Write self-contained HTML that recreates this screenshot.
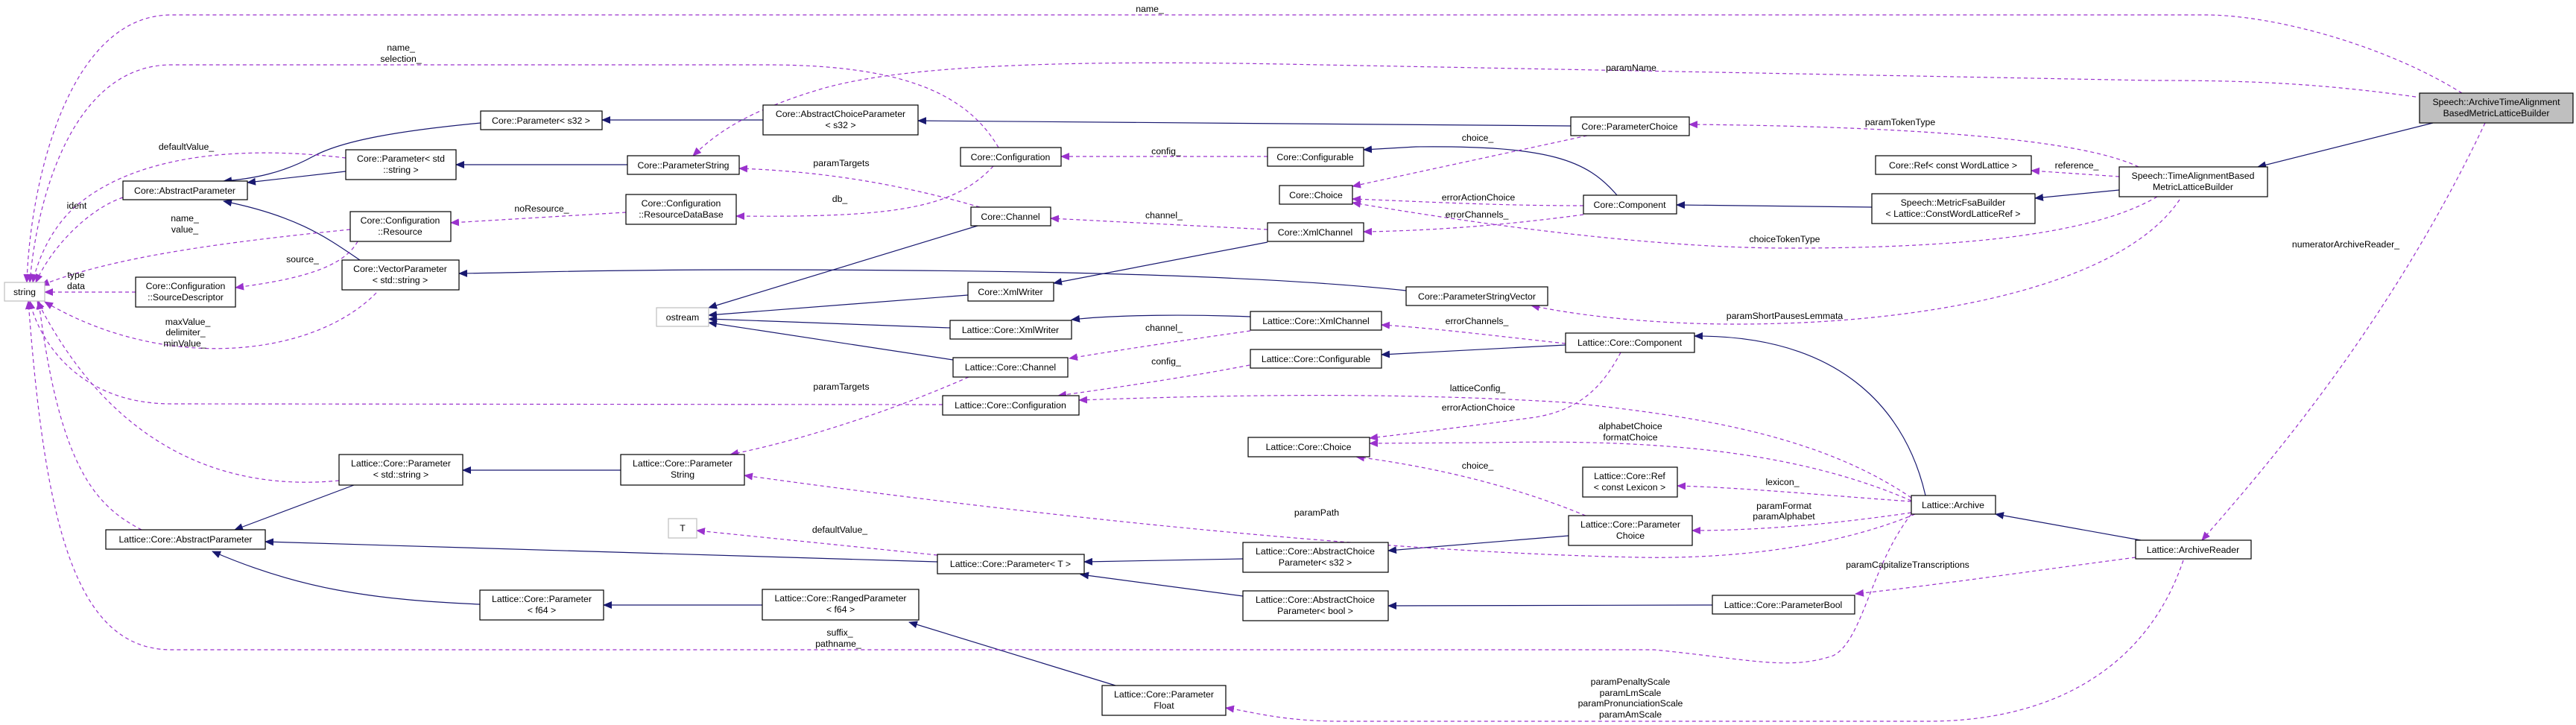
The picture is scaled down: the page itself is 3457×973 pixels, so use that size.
<!DOCTYPE html>
<html><head><meta charset="utf-8"><style>
html,body{margin:0;padding:0;background:#fff;width:3457px;height:973px;overflow:hidden}
svg text{font-family:"Liberation Sans",sans-serif;font-size:12.3px;fill:#000}
.b{fill:#fff;stroke:#000;stroke-width:1.2}
.g{fill:#fff;stroke:#bfbfbf;stroke-width:1.2}
.s{fill:none;stroke:#191970;stroke-width:1.2}
.d{fill:none;stroke:#9a32cd;stroke-width:1.2;stroke-dasharray:5,4}
</style></head><body>
<svg width="3457" height="973" viewBox="0 0 3457 973" xmlns="http://www.w3.org/2000/svg">
<defs>
<marker id="n" markerWidth="12" markerHeight="10" refX="11" refY="5" orient="auto" markerUnits="userSpaceOnUse"><path d="M0,0 L12,5 L0,10 z" fill="#191970"/></marker>
<marker id="p" markerWidth="12" markerHeight="10" refX="11" refY="5" orient="auto" markerUnits="userSpaceOnUse"><path d="M0,0 L12,5 L0,10 z" fill="#9a32cd"/></marker>
</defs>

<!-- solid inheritance edges -->
<g class="s" marker-end="url(#n)">
<path d="M645,165 C540,175 460,188 420,210 C380,232 340,240 300,243"/>
<path d="M464,230 L332,245"/>
<path d="M483,349 C440,320 400,290 300,270"/>
<path d="M1024,161 L808,161"/>
<path d="M842,221 L612,221"/>
<path d="M1887,390 C1700,370 1400,362 1000,362 C800,362 700,366 616,367"/>
<path d="M2108,169 L1232,162"/>
<path d="M2170,262 C2130,215 2080,195 1900,197 L1830,201"/>
<path d="M1312,303 L951,413"/>
<path d="M1299,396 L951,423"/>
<path d="M1701,325 L1414,380"/>
<path d="M1275,440 L951,428"/>
<path d="M1279,483 L951,433"/>
<path d="M1678,425 C1600,422 1500,422 1438,429"/>
<path d="M2512,278 L2250,275"/>
<path d="M2844,255 L2731,266"/>
<path d="M3265,165 L3030,224"/>
<path d="M2101,463 L1854,476"/>
<path d="M2584,665 C2560,560 2480,450 2274,451"/>
<path d="M2873,725 L2678,690"/>
<path d="M475,651 L315,711"/>
<path d="M1258,754 L356,727"/>
<path d="M644,811 C500,805 400,790 285,740"/>
<path d="M833,631 L621,631"/>
<path d="M1668,750 L1455,754"/>
<path d="M1668,800 L1450,771"/>
<path d="M1023,812 L810,812"/>
<path d="M1497,920 L1220,835"/>
<path d="M2105,719 L1863,739"/>
<path d="M2298,812 L1863,813"/>
</g>

<!-- dashed usage edges -->
<g class="d" marker-end="url(#p)">
<path d="M3304,125 C3200,60 3050,20 2960,20 L230,20 C90,20 40,250 36,379"/>
<path d="M3242,130 C3100,110 3000,108 2887,108 L1720,86 C1400,80 1200,90 1100,120 C1000,150 960,180 930,209"/>
<path d="M1340,198 C1300,130 1220,87 1030,87 L230,87 C100,87 50,260 40,379"/>
<path d="M464,212 C350,198 200,200 110,270 C70,300 50,350 44,379"/>
<path d="M165,265 C120,280 70,330 48,379"/>
<path d="M470,308 C300,325 150,345 55,383"/>
<path d="M480,324 C460,360 400,375 316,386"/>
<path d="M182,392 L60,392"/>
<path d="M505,393 C420,480 220,500 60,405"/>
<path d="M1333,223 C1280,280 1200,292 988,290"/>
<path d="M840,285 L605,299"/>
<path d="M1315,278 C1200,245 1100,230 992,226"/>
<path d="M1701,210 L1424,210"/>
<path d="M1701,308 L1410,293"/>
<path d="M2130,182 L1815,250"/>
<path d="M2125,276 C2000,276 1900,270 1815,267"/>
<path d="M2125,288 C2000,305 1900,310 1830,311"/>
<path d="M2870,224 C2800,190 2600,170 2267,167"/>
<path d="M2844,237 L2726,229"/>
<path d="M2895,264 C2800,320 2600,333 2400,333 C2200,333 1950,295 1815,272"/>
<path d="M2925,268 C2850,380 2600,435 2330,435 C2200,435 2100,420 2055,410"/>
<path d="M3335,165 C3200,450 3020,650 2955,725"/>
<path d="M1678,444 C1600,455 1500,470 1435,481"/>
<path d="M1677,490 C1600,505 1500,520 1420,531"/>
<path d="M2101,461 C2000,450 1920,440 1854,436"/>
<path d="M2175,473 C2150,520 2120,550 2060,560 C1950,575 1880,583 1838,588"/>
<path d="M2565,668 C2450,590 2300,560 2100,540 C1900,528 1700,528 1448,537"/>
<path d="M2565,672 C2400,600 2200,590 2000,594 L1838,595"/>
<path d="M2128,692 C2050,660 1950,630 1820,613"/>
<path d="M2565,673 C2450,665 2350,655 2251,652"/>
<path d="M2565,688 C2450,705 2350,712 2271,712"/>
<path d="M2570,690 C2450,740 2300,750 2200,748 C1800,740 1300,680 999,638"/>
<path d="M1300,506 C1200,550 1080,590 980,610"/>
<path d="M1265,543 L230,542 C100,542 50,450 40,404"/>
<path d="M455,645 C300,660 150,600 50,404"/>
<path d="M190,711 C130,680 80,630 52,404"/>
<path d="M1258,745 L935,712"/>
<path d="M2866,748 C2700,770 2600,785 2490,797"/>
<path d="M2930,752 C2880,900 2750,968 2587,968 L1800,968 C1720,968 1680,955 1645,950"/>
<path d="M2565,690 C2510,760 2500,860 2460,880 C2400,900 2350,885 2220,872 L230,872 C100,872 60,700 38,404"/>
</g>

<!-- edge labels -->
<g text-anchor="middle">
<text x="1543" y="16">name_</text>
<text x="538" y="68">name_</text><text x="538" y="83">selection_</text>
<text x="2189" y="95">paramName</text>
<text x="250" y="201">defaultValue_</text>
<text x="103" y="280">ident</text>
<text x="248" y="297">name_</text><text x="248" y="312">value_</text>
<text x="406" y="352">source_</text>
<text x="102" y="373">type</text><text x="102" y="388">data</text>
<text x="252" y="436">maxValue_</text><text x="249" y="450">delimiter_</text><text x="248" y="465">minValue_</text>
<text x="727" y="284">noResource_</text>
<text x="1129" y="223">paramTargets</text>
<text x="1127" y="271">db_</text>
<text x="1565" y="207">config_</text>
<text x="1562" y="293">channel_</text>
<text x="1983" y="189">choice_</text>
<text x="1984" y="269">errorActionChoice</text>
<text x="1982" y="292">errorChannels_</text>
<text x="2395" y="325">choiceTokenType</text>
<text x="2550" y="168">paramTokenType</text>
<text x="2787" y="226">reference_</text>
<text x="3148" y="332">numeratorArchiveReader_</text>
<text x="1982" y="435">errorChannels_</text>
<text x="2395" y="428">paramShortPausesLemmata</text>
<text x="1562" y="444">channel_</text>
<text x="1565" y="489">config_</text>
<text x="1983" y="525">latticeConfig_</text>
<text x="1984" y="551">errorActionChoice</text>
<text x="2188" y="576">alphabetChoice</text><text x="2188" y="591">formatChoice</text>
<text x="1983" y="629">choice_</text>
<text x="2392" y="651">lexicon_</text>
<text x="2394" y="683">paramFormat</text><text x="2394" y="697">paramAlphabet</text>
<text x="1767" y="692">paramPath</text>
<text x="1129" y="523">paramTargets</text>
<text x="1127" y="715">defaultValue_</text>
<text x="1127" y="853">suffix_</text><text x="1125" y="868">pathname_</text>
<text x="2560" y="762">paramCapitalizeTranscriptions</text>
<text x="2188" y="919">paramPenaltyScale</text><text x="2188" y="934">paramLmScale</text><text x="2188" y="948">paramPronunciationScale</text><text x="2188" y="963">paramAmScale</text>
</g>

<!-- nodes -->
<g>
<rect class="g" x="6" y="379" width="54" height="25"/>
<rect class="b" x="645" y="149" width="163" height="25"/>
<rect class="b" x="464" y="201" width="148" height="40"/>
<rect class="b" x="165" y="243" width="167" height="25"/>
<rect class="b" x="470" y="284" width="135" height="40"/>
<rect class="b" x="182" y="372" width="134" height="40"/>
<rect class="b" x="459" y="349" width="157" height="40"/>
<rect class="b" x="1024" y="141" width="208" height="40"/>
<rect class="b" x="842" y="209" width="150" height="25"/>
<rect class="b" x="840" y="261" width="148" height="40"/>
<rect class="b" x="1289" y="198" width="135" height="25"/>
<rect class="b" x="1303" y="278" width="107" height="25"/>
<rect class="b" x="1299" y="379" width="115" height="25"/>
<rect class="g" x="881" y="413" width="70" height="25"/>
<rect class="b" x="1275" y="430" width="163" height="25"/>
<rect class="b" x="1279" y="480" width="154" height="26"/>
<rect class="b" x="1265" y="531" width="183" height="26"/>
<rect class="b" x="833" y="610" width="166" height="41"/>
<rect class="g" x="897" y="696" width="38" height="26"/>
<rect class="b" x="1258" y="744" width="197" height="26"/>
<rect class="b" x="1023" y="791" width="210" height="41"/>
<rect class="b" x="1479" y="920" width="166" height="40"/>
<rect class="b" x="455" y="610" width="166" height="41"/>
<rect class="b" x="142" y="711" width="214" height="26"/>
<rect class="b" x="644" y="792" width="166" height="40"/>
<rect class="b" x="2108" y="157" width="159" height="25"/>
<rect class="b" x="1701" y="198" width="129" height="25"/>
<rect class="b" x="1717" y="249" width="98" height="25"/>
<rect class="b" x="2125" y="262" width="125" height="25"/>
<rect class="b" x="1701" y="299" width="129" height="25"/>
<rect class="b" x="1887" y="385" width="190" height="25"/>
<rect class="b" x="1678" y="418" width="176" height="25"/>
<rect class="b" x="2101" y="447" width="173" height="26"/>
<rect class="b" x="1678" y="469" width="176" height="25"/>
<rect class="b" x="2517" y="209" width="209" height="25"/>
<rect class="b" x="2512" y="260" width="219" height="40"/>
<rect x="3247" y="125" width="206" height="40" fill="#bfbfbf" stroke="#000" stroke-width="1.2"/>
<rect class="b" x="2844" y="224" width="199" height="40"/>
<rect class="b" x="1675" y="587" width="163" height="26"/>
<rect class="b" x="2124" y="627" width="127" height="40"/>
<rect class="b" x="2565" y="665" width="113" height="25"/>
<rect class="b" x="2105" y="692" width="166" height="40"/>
<rect class="b" x="1668" y="728" width="195" height="40"/>
<rect class="b" x="1668" y="793" width="195" height="40"/>
<rect class="b" x="2298" y="799" width="191" height="25"/>
<rect class="b" x="2866" y="725" width="155" height="25"/>
</g>

<g text-anchor="middle">
<text x="33" y="396">string</text>
<text x="726" y="166">Core::Parameter&lt; s32 &gt;</text>
<text x="538" y="217">Core::Parameter&lt; std</text><text x="538" y="232">::string &gt;</text>
<text x="248" y="260">Core::AbstractParameter</text>
<text x="537" y="300">Core::Configuration</text><text x="537" y="315">::Resource</text>
<text x="249" y="388">Core::Configuration</text><text x="249" y="403">::SourceDescriptor</text>
<text x="537" y="365">Core::VectorParameter</text><text x="537" y="380">&lt; std::string &gt;</text>
<text x="1128" y="157">Core::AbstractChoiceParameter</text><text x="1128" y="172">&lt; s32 &gt;</text>
<text x="917" y="226">Core::ParameterString</text>
<text x="914" y="277">Core::Configuration</text><text x="914" y="292">::ResourceDataBase</text>
<text x="1356" y="215">Core::Configuration</text>
<text x="1356" y="295">Core::Channel</text>
<text x="1356" y="396">Core::XmlWriter</text>
<text x="916" y="430">ostream</text>
<text x="1356" y="447">Lattice::Core::XmlWriter</text>
<text x="1356" y="497">Lattice::Core::Channel</text>
<text x="1356" y="548">Lattice::Core::Configuration</text>
<text x="916" y="626">Lattice::Core::Parameter</text><text x="916" y="641">String</text>
<text x="916" y="713">T</text>
<text x="1356" y="761">Lattice::Core::Parameter&lt; T &gt;</text>
<text x="1128" y="807">Lattice::Core::RangedParameter</text><text x="1128" y="822">&lt; f64 &gt;</text>
<text x="1562" y="936">Lattice::Core::Parameter</text><text x="1562" y="951">Float</text>
<text x="538" y="626">Lattice::Core::Parameter</text><text x="538" y="641">&lt; std::string &gt;</text>
<text x="249" y="728">Lattice::Core::AbstractParameter</text>
<text x="727" y="808">Lattice::Core::Parameter</text><text x="727" y="823">&lt; f64 &gt;</text>
<text x="2187" y="174">Core::ParameterChoice</text>
<text x="1765" y="215">Core::Configurable</text>
<text x="1766" y="266">Core::Choice</text>
<text x="2187" y="279">Core::Component</text>
<text x="1765" y="316">Core::XmlChannel</text>
<text x="1982" y="402">Core::ParameterStringVector</text>
<text x="1766" y="435">Lattice::Core::XmlChannel</text>
<text x="2187" y="464">Lattice::Core::Component</text>
<text x="1766" y="486">Lattice::Core::Configurable</text>
<text x="2621" y="226">Core::Ref&lt; const WordLattice &gt;</text>
<text x="2621" y="276">Speech::MetricFsaBuilder</text><text x="2621" y="291">&lt; Lattice::ConstWordLatticeRef &gt;</text>
<text x="3350" y="141">Speech::ArchiveTimeAlignment</text><text x="3350" y="156">BasedMetricLatticeBuilder</text>
<text x="2943" y="240">Speech::TimeAlignmentBased</text><text x="2943" y="255">MetricLatticeBuilder</text>
<text x="1756" y="604">Lattice::Core::Choice</text>
<text x="2187" y="643">Lattice::Core::Ref</text><text x="2187" y="658">&lt; const Lexicon &gt;</text>
<text x="2621" y="682">Lattice::Archive</text>
<text x="2188" y="708">Lattice::Core::Parameter</text><text x="2188" y="723">Choice</text>
<text x="1765" y="744">Lattice::Core::AbstractChoice</text><text x="1765" y="759">Parameter&lt; s32 &gt;</text>
<text x="1765" y="809">Lattice::Core::AbstractChoice</text><text x="1765" y="824">Parameter&lt; bool &gt;</text>
<text x="2393" y="816">Lattice::Core::ParameterBool</text>
<text x="2943" y="742">Lattice::ArchiveReader</text>
</g>
</svg>
</body></html>
